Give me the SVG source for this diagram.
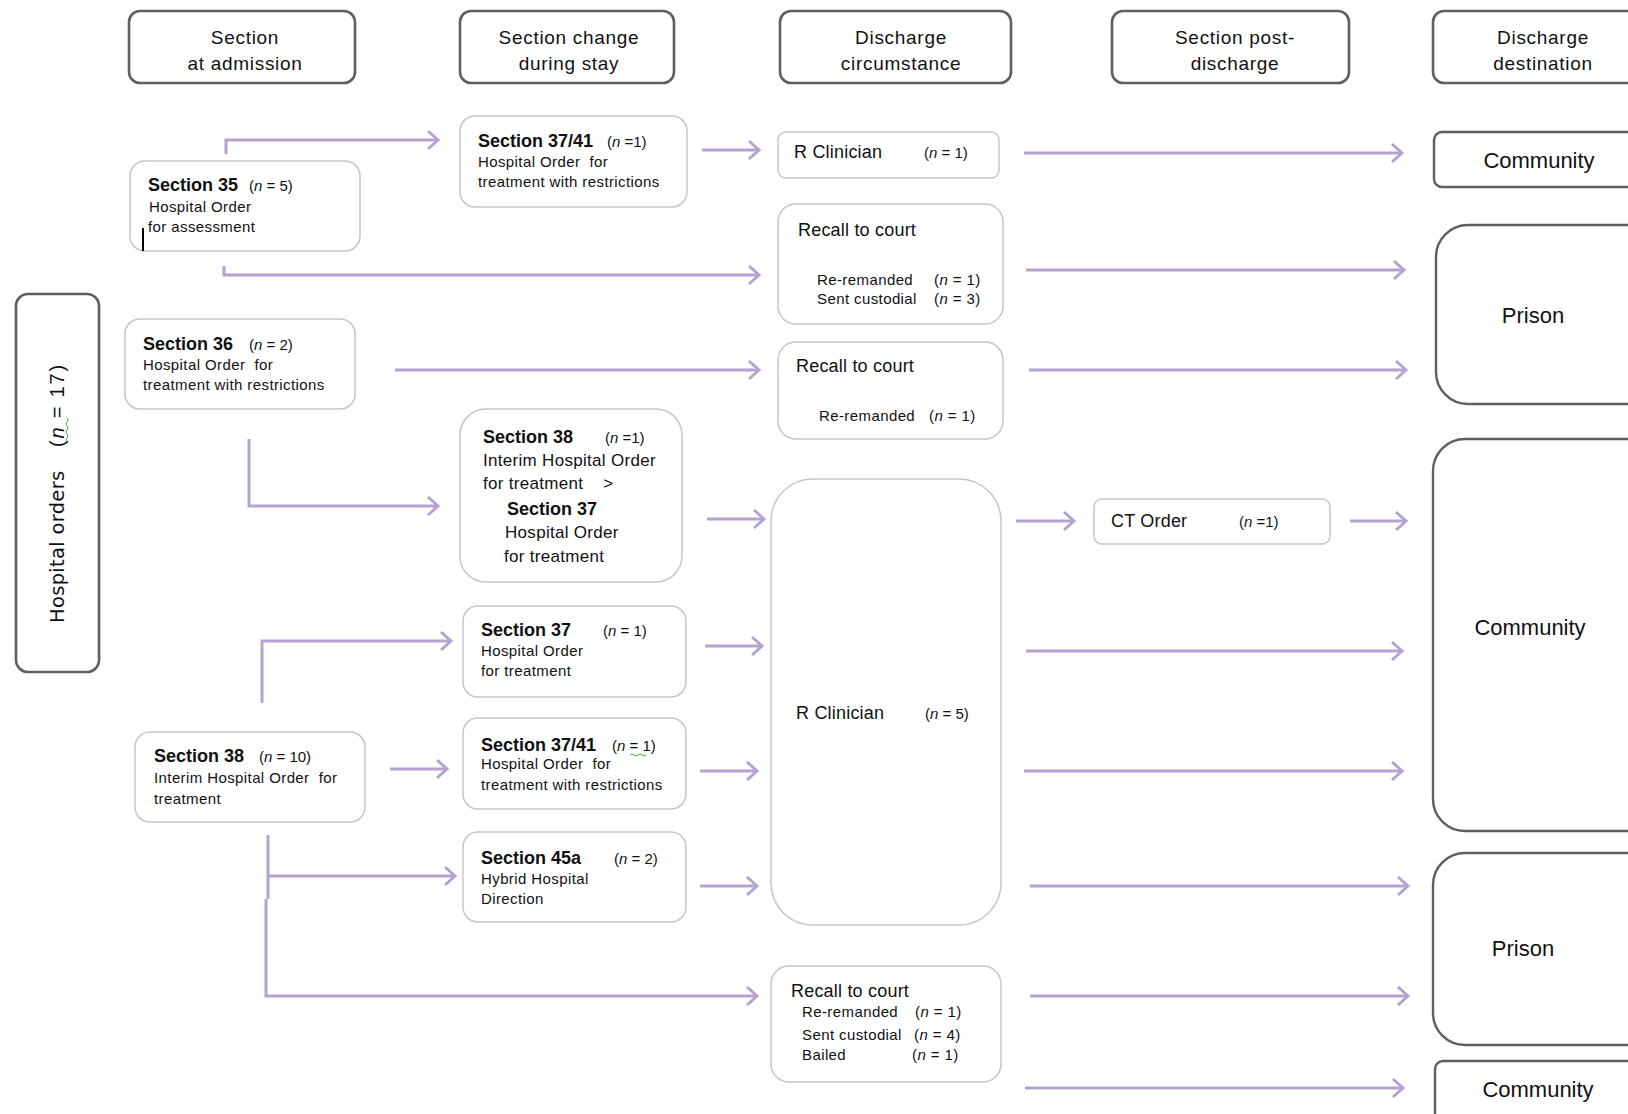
<svg xmlns="http://www.w3.org/2000/svg" width="1628" height="1114" viewBox="0 0 1628 1114" xml:space="preserve">
  <style>
    .hdr { fill: #ffffff; stroke: #5f5f5f; stroke-width: 2.6; }
    .node { fill: #ffffff; stroke: #c6c6c6; stroke-width: 1.5; }
    .dest { fill: #ffffff; stroke: #5f5f5f; stroke-width: 2.4; }
    text { font-family: "Liberation Sans", Arial, sans-serif; fill: #111111; white-space: pre; }
    .ht { font-size: 19px; text-anchor: middle; letter-spacing: 0.7px; }
    .tt { font-size: 18px; font-weight: bold; }
    .st { font-size: 15px; letter-spacing: 0.4px; }
    .lt { font-size: 17px; letter-spacing: 0.3px; }
    .nt { font-size: 15px; }
    .mt { font-size: 18px; letter-spacing: 0.2px; }
    .dt { font-size: 22px; text-anchor: middle; }
    .it { font-style: italic; }
    .conn path { fill: none; stroke: #b4a3d1; stroke-width: 3; marker-end: url(#arr); }
  </style>
  <defs>
    <marker id="arr" markerUnits="userSpaceOnUse" markerWidth="16" markerHeight="22" refX="12" refY="11" orient="auto">
      <path d="M2,2 L12,11 L2,20" fill="none" stroke="#b4a3d1" stroke-width="3"/>
    </marker>
  </defs>

  <rect width="1628" height="1114" fill="#ffffff"/>

  <!-- column headings -->
  <g id="hdr-admission">
    <rect class="hdr" x="129" y="11" width="226" height="72" rx="11"/>
    <text class="ht" x="245" y="44">Section</text>
    <text class="ht" x="245" y="70">at admission</text>
  </g>
  <g id="hdr-change">
    <rect class="hdr" x="460" y="11" width="214" height="72" rx="11"/>
    <text class="ht" x="569" y="44">Section change</text>
    <text class="ht" x="569" y="70">during stay</text>
  </g>
  <g id="hdr-circumstance">
    <rect class="hdr" x="780" y="11" width="231" height="72" rx="11"/>
    <text class="ht" x="901" y="44">Discharge</text>
    <text class="ht" x="901" y="70">circumstance</text>
  </g>
  <g id="hdr-post">
    <rect class="hdr" x="1112" y="11" width="237" height="72" rx="11"/>
    <text class="ht" x="1235" y="44">Section post-</text>
    <text class="ht" x="1235" y="70">discharge</text>
  </g>
  <g id="hdr-destination">
    <rect class="hdr" x="1433" y="11" width="230" height="72" rx="11"/>
    <text class="ht" x="1543" y="44">Discharge</text>
    <text class="ht" x="1543" y="70">destination</text>
  </g>

  <!-- side label -->
  <g id="hospital-orders">
    <rect class="hdr" x="16" y="294" width="83" height="378" rx="12"/>
    <text transform="translate(64,623) rotate(-90)" style="font-family:'DejaVu Sans',Verdana,sans-serif;font-size:19.5px;letter-spacing:0.3px">Hospital orders</text>
    <text transform="translate(64,447) rotate(-90)" style="font-family:'Liberation Sans',Arial,sans-serif;font-size:20px;letter-spacing:1.8px">(<tspan class="it">n</tspan> = 17)</text>
    <path d="M67,418 q2,2 0,4 q-2,2 0,4 q2,2 0,4 q-2,2 0,4 q2,2 0,4 q-2,2 0,4" fill="none" stroke="#3fae3f" stroke-width="1"/>
  </g>

  <!-- section at admission -->
  <g id="s35">
    <rect class="node" x="130" y="161" width="230" height="90" rx="15"/>
    <text class="tt" x="148" y="191">Section 35</text>
    <text class="nt" x="249" y="191">(<tspan class="it">n</tspan> = 5)</text>
    <text class="st" x="149" y="212">Hospital Order</text>
    <text class="st" x="148" y="232">for assessment</text>
    <line x1="143" y1="228" x2="143" y2="251" stroke="#000000" stroke-width="2"/>
  </g>
  <g id="s36">
    <rect class="node" x="125" y="319" width="230" height="90" rx="15"/>
    <text class="tt" x="143" y="350">Section 36</text>
    <text class="nt" x="249" y="350">(<tspan class="it">n</tspan> = 2)</text>
    <text class="st" x="143" y="369.5">Hospital Order  for</text>
    <text class="st" x="143" y="390">treatment with restrictions</text>
  </g>
  <g id="s38">
    <rect class="node" x="135" y="732" width="230" height="90" rx="15"/>
    <text class="tt" x="154" y="762">Section 38</text>
    <text class="nt" x="259" y="762">(<tspan class="it">n</tspan> = 10)</text>
    <text class="st" x="154" y="783">Interim Hospital Order  for</text>
    <text class="st" x="154" y="803.5">treatment</text>
  </g>

  <!-- section change during stay -->
  <g id="s3741-a">
    <rect class="node" x="460" y="116" width="227" height="91" rx="15"/>
    <text class="tt" x="478" y="147">Section 37/41</text>
    <text class="nt" x="607" y="147">(<tspan class="it">n</tspan> =1)</text>
    <text class="st" x="478" y="167">Hospital Order  for</text>
    <text class="st" x="478" y="187">treatment with restrictions</text>
  </g>
  <g id="s38-37">
    <rect class="node" x="460" y="409" width="222" height="173" rx="26"/>
    <text class="tt" x="483" y="443">Section 38</text>
    <text class="nt" x="605" y="443">(<tspan class="it">n</tspan> =1)</text>
    <text class="lt" x="483" y="466">Interim Hospital Order</text>
    <text class="lt" x="483" y="489">for treatment    &gt;</text>
    <text class="tt" x="507" y="515">Section 37</text>
    <text class="lt" x="505" y="538">Hospital Order</text>
    <text class="lt" x="504" y="561.5">for treatment</text>
  </g>
  <g id="s37">
    <rect class="node" x="463" y="606" width="223" height="91" rx="15"/>
    <text class="tt" x="481" y="636">Section 37</text>
    <text class="nt" x="603" y="636">(<tspan class="it">n</tspan> = 1)</text>
    <text class="st" x="481" y="656">Hospital Order</text>
    <text class="st" x="481" y="676">for treatment</text>
  </g>
  <g id="s3741-b">
    <rect class="node" x="463" y="718" width="223" height="91" rx="15"/>
    <text class="tt" x="481" y="750.5">Section 37/41</text>
    <text class="nt" x="612" y="750.5">(<tspan class="it">n</tspan> = 1)</text>
    <path d="M630,755 q2,-2 4,0 q2,2 4,0 q2,-2 4,0 q2,2 4,0" fill="none" stroke="#3fae3f" stroke-width="1"/>
    <text class="st" x="481" y="769">Hospital Order  for</text>
    <text class="st" x="481" y="790">treatment with restrictions</text>
  </g>
  <g id="s45a">
    <rect class="node" x="463" y="832" width="223" height="90" rx="15"/>
    <text class="tt" x="481" y="864">Section 45a</text>
    <text class="nt" x="614" y="864">(<tspan class="it">n</tspan> = 2)</text>
    <text class="st" x="481" y="883.5">Hybrid Hospital</text>
    <text class="st" x="481" y="904">Direction</text>
  </g>

  <!-- discharge circumstance -->
  <g id="rc1">
    <rect class="node" x="778" y="132" width="221" height="46" rx="8"/>
    <text class="mt" x="794" y="158">R Clinician</text>
    <text class="nt" x="924" y="158">(<tspan class="it">n</tspan> = 1)</text>
  </g>
  <g id="recall1">
    <rect class="node" x="778" y="204" width="225" height="120" rx="18"/>
    <text class="mt" x="798" y="236">Recall to court</text>
    <text class="st" x="817" y="284.5">Re-remanded</text>
    <text class="st" x="934" y="284.5">(<tspan class="it">n</tspan> = 1)</text>
    <text class="st" x="817" y="304">Sent custodial</text>
    <text class="st" x="934" y="304">(<tspan class="it">n</tspan> = 3)</text>
  </g>
  <g id="recall2">
    <rect class="node" x="778" y="342" width="225" height="97" rx="18"/>
    <text class="mt" x="796" y="372">Recall to court</text>
    <text class="st" x="819" y="420.5">Re-remanded</text>
    <text class="st" x="929" y="420.5">(<tspan class="it">n</tspan> = 1)</text>
  </g>
  <g id="rc5">
    <rect class="node" x="771" y="479" width="230" height="446" rx="42"/>
    <text class="mt" x="796" y="718.5">R Clinician</text>
    <text class="nt" x="925" y="718.5">(<tspan class="it">n</tspan> = 5)</text>
  </g>
  <g id="recall3">
    <rect class="node" x="771" y="966" width="230" height="116" rx="18"/>
    <text class="mt" x="791" y="997">Recall to court</text>
    <text class="st" x="802" y="1016.5">Re-remanded</text>
    <text class="st" x="915" y="1016.5">(<tspan class="it">n</tspan> = 1)</text>
    <text class="st" x="802" y="1040.3">Sent custodial</text>
    <text class="st" x="914" y="1040.3">(<tspan class="it">n</tspan> = 4)</text>
    <text class="st" x="802" y="1060">Bailed</text>
    <text class="st" x="912" y="1060">(<tspan class="it">n</tspan> = 1)</text>
  </g>

  <!-- section post-discharge -->
  <g id="ct-order">
    <rect class="node" x="1094" y="499" width="236" height="45" rx="8"/>
    <text class="mt" x="1111" y="526.5">CT Order</text>
    <text class="nt" x="1239" y="526.5">(<tspan class="it">n</tspan> =1)</text>
  </g>

  <!-- discharge destination -->
  <g id="community-1">
    <rect class="dest" x="1434" y="132" width="230" height="55" rx="8"/>
    <text class="dt" x="1539" y="167.5">Community</text>
  </g>
  <g id="prison-1">
    <rect class="dest" x="1436" y="225" width="230" height="179" rx="32"/>
    <text class="dt" x="1533" y="323">Prison</text>
  </g>
  <g id="community-2">
    <rect class="dest" x="1433" y="439" width="230" height="392" rx="32"/>
    <text class="dt" x="1530" y="634.5">Community</text>
  </g>
  <g id="prison-2">
    <rect class="dest" x="1433" y="853" width="230" height="192" rx="32"/>
    <text class="dt" x="1523" y="955.5">Prison</text>
  </g>
  <g id="community-3">
    <rect class="dest" x="1435" y="1061" width="230" height="70" rx="8"/>
    <text class="dt" x="1538" y="1096.5">Community</text>
  </g>

  <!-- connectors -->
  <g id="connectors" class="conn">
    <path d="M226,154 V140 H438"/>
    <path d="M224,266 V275 H759"/>
    <path d="M702,150 H759"/>
    <path d="M1024,153 H1402"/>
    <path d="M1026,270 H1404"/>
    <path d="M395,370 H759"/>
    <path d="M1029,370 H1406"/>
    <path d="M249,439 V506 H438"/>
    <path d="M707,519 H764"/>
    <path d="M1016,521 H1074"/>
    <path d="M1350,521 H1406"/>
    <path d="M262,703 V641 H451"/>
    <path d="M705,646 H762"/>
    <path d="M1026,651 H1402"/>
    <path d="M390,769 H447"/>
    <path d="M700,771 H757"/>
    <path d="M1024,771 H1402"/>
    <path d="M268,835 V899" style="marker-end:none"/>
    <path d="M268,876 H455"/>
    <path d="M266,899 V996 H757"/>
    <path d="M700,886 H757"/>
    <path d="M1030,886 H1408"/>
    <path d="M1030,996 H1408"/>
    <path d="M1025,1088 H1403"/>
  </g>
</svg>
